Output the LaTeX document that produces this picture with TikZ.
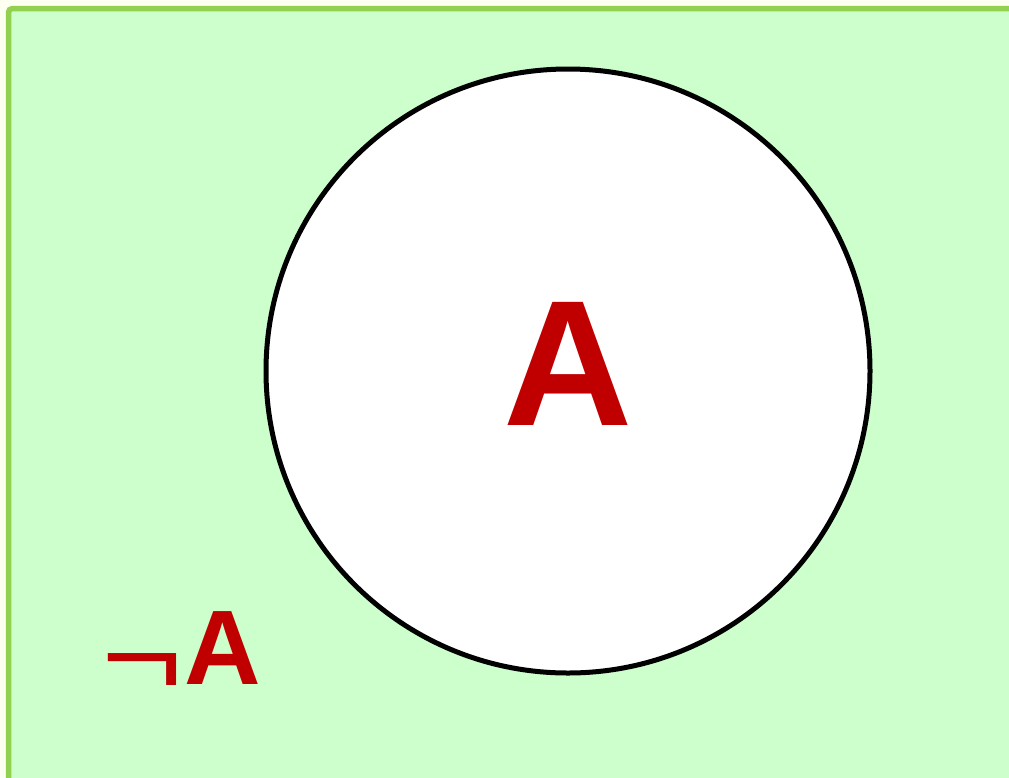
\documentclass[tikz,border=0pt]{standalone}
\usepackage{graphicx}
\usepackage{fontspec}
\setmainfont{Liberation Sans}
\definecolor{pagebg}{RGB}{253,255,240}
\definecolor{setfill}{RGB}{204,255,204}
\definecolor{setedge}{RGB}{146,208,80}
\definecolor{setred}{RGB}{192,0,0}
\begin{document}
\begin{tikzpicture}[
    x=1pt, y=-1pt,
    lbl/.style={text=setred, font=\bfseries, inner sep=0pt, anchor=base}
  ]
    \useasboundingbox[fill=pagebg] (0,0) rectangle (1009,777);
    % universe
    \draw[setedge, fill=setfill, line width=5.5pt, rounded corners=4pt]
      (1030,800) -- (8.5,800) -- (8.5,8.5) -- (1030,8.5);
    % set A
    \node[circle, draw=black, fill=white, line width=5pt, minimum size=604pt, inner sep=0pt] (setA) at (568,371) {};
    \node[lbl, font=\fontsize{179}{179}\bfseries\selectfont] (labA) at (568,425) {A};
    \node[lbl, font=\fontsize{106}{106}\bfseries\selectfont, anchor=base west] (labNotA) at (101,684)
      {\raisebox{-11pt}{\scalebox{1.17}[0.95]{\fontsize{120}{120}\mdseries\selectfont ¬}}\hspace{1pt}A};
  \end{tikzpicture}
\end{document}
